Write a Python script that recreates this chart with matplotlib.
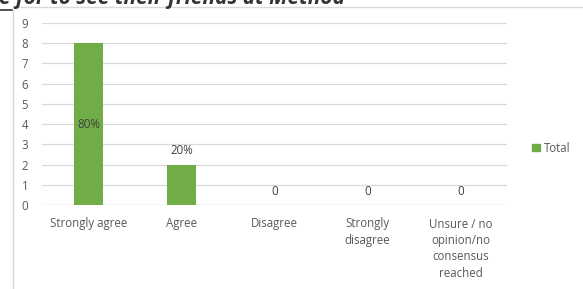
import matplotlib.pyplot as plt
from matplotlib.lines import Line2D
from matplotlib.patches import Patch

categories = ["Strongly agree", "Agree", "Disagree", "Strongly\ndisagree",
              "Unsure / no\nopinion/no\nconsensus\nreached"]
totals = [8, 2, 0, 0, 0]
bar_labels = ["80%", "20%", "0", "0", "0"]

plt.rcParams['font.family'] = ['Open Sans', 'DejaVu Sans']
grey = "#595959"
green = "#70ad47"

fig = plt.figure(figsize=(5.83, 2.89), dpi=100)
ax = fig.add_axes([42 / 583, 84 / 289, 465 / 583, 182 / 289])

x = list(range(len(categories)))
ax.bar(x, totals, width=0.31, color=green, zorder=3)
ax.set_xlim(-0.5, len(categories) - 0.5)
ax.set_ylim(0, 9)
ax.set_yticks(range(10))
ax.yaxis.grid(True, color="#d9d9d9", linewidth=0.9, zorder=0)
for s in ax.spines.values():
    s.set_visible(False)
ax.axhline(0, color="#d9d9d9", linewidth=0.9, zorder=2)
ax.tick_params(length=0, colors=grey, labelsize=8.3)
ax.tick_params(axis="y", pad=10)
ax.tick_params(axis="x", pad=9)
ax.set_xticks(x)
ax.set_xticklabels(categories, linespacing=1.35)

for i, (v, lab) in enumerate(zip(totals, bar_labels)):
    if v >= 4:
        ax.text(i, v / 2, lab, ha="center", va="center", color="#404040", fontsize=8.3, zorder=4)
    else:
        ax.text(i, v + 0.35, lab, ha="center", va="bottom", color="#404040", fontsize=8.3, zorder=4)

# legend
leg = fig.legend(handles=[Patch(color=green, label="Total")],
                 loc="center left", bbox_to_anchor=(522 / 583, 1 - 148 / 289),
                 frameon=False, fontsize=8.3, handlelength=0.65, handleheight=0.65,
                 handletextpad=0.35, labelcolor=grey)

# clipped title and chart border remnants
fig.text(-0.002, 1 - 4 / 289, "e for to see their friends at Method", fontsize=15,
         fontweight="bold", fontstyle="italic", color="#333333", va="baseline", ha="left")
fig.add_artist(Line2D([0, 12 / 583], [1 - 10 / 289, 1 - 10 / 289], color="#333333", linewidth=1.2))
fig.add_artist(Line2D([13 / 583, 13 / 583], [0, 1 - 10 / 289], color="#d9d9d9", linewidth=1))
fig.add_artist(Line2D([13 / 583, 1], [1 - 7 / 289, 1 - 7 / 289], color="#d9d9d9", linewidth=1))

fig.savefig("out.png", dpi=100)
